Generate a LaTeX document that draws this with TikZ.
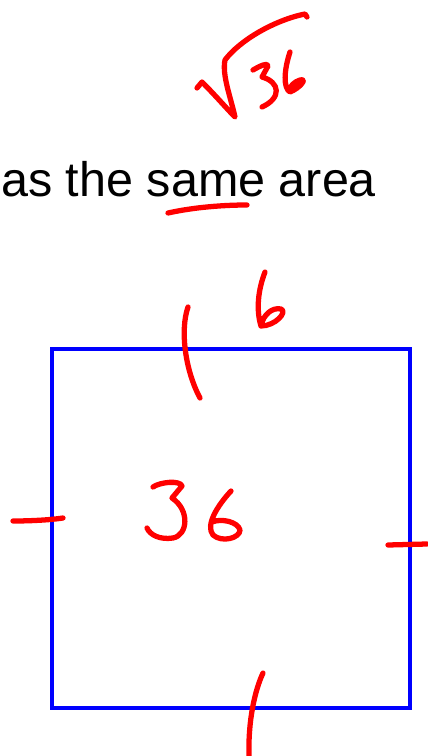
\documentclass[tikz,border=0pt]{standalone}
\usepackage{fontspec}
\setmainfont{Liberation Sans}
\usetikzlibrary{positioning}
\definecolor{penred}{RGB}{255, 0, 0}
\definecolor{edgeblue}{RGB}{0, 0, 255}

\begin{document}
\begin{tikzpicture}[x=0.02cm, y=-0.02cm,
        ink/.style={draw=penred, line width=3pt, line cap=round, line join=round},
        side/.style={draw=edgeblue, line width=2.3pt}
    ]
        \useasboundingbox (0,0) rectangle (427,756);
        % heading
        \node[anchor=base west, inner sep=0pt, font=\fontsize{27.6}{30}\selectfont] (caption) at (1,197) {as the same area};
        \draw[ink] (168,213) .. controls (195,207) and (225,205) .. (247,205);
        % square root of 36
        \draw[ink] (197,88) -- (202,82) .. controls (215,95) and (228,110) .. (235,117)
                   .. controls (230,95) and (222,75) .. (225,60)
                   .. controls (240,40) and (275,20) .. (305,14) -- (307,17);
        \draw[ink] (253,70) .. controls (260,66) and (268,62) .. (268,66)
                   -- (262,77) .. controls (280,82) and (282,98) .. (262,107);
        \draw[ink] (290,52) .. controls (284,70) and (283,88) .. (290,92)
                   .. controls (300,88) and (308,78) .. (300,80)
                   .. controls (294,82) and (290,86) .. (290,90);
        % the square
        \draw[side] (52,349) rectangle (410,708);
        % side length
        \draw[ink] (265,272) .. controls (258,290) and (256,310) .. (261,326)
                   .. controls (275,326) and (288,312) .. (281,309)
                   .. controls (272,307) and (263,315) .. (261,326);
        \draw[ink] (188,307) .. controls (180,330) and (185,370) .. (200,398);
        % area
        \draw[ink] (153,487) .. controls (160,482) and (180,480) .. (182,486)
                   -- (172,498) .. controls (190,510) and (188,535) .. (173,538)
                   .. controls (160,540) and (150,535) .. (147,528);
        \draw[ink] (231,491) .. controls (218,505) and (205,525) .. (213,535)
                   .. controls (222,543) and (240,538) .. (240,530)
                   .. controls (238,522) and (222,518) .. (212,522);
        % equal side marks
        \draw[ink] (13,521) .. controls (30,521) and (50,520) .. (63,518);
        \draw[ink] (388,545) -- (427,544);
        \draw[ink] (263,673) .. controls (255,690) and (248,720) .. (249,756);
\end{tikzpicture}
\end{document}
